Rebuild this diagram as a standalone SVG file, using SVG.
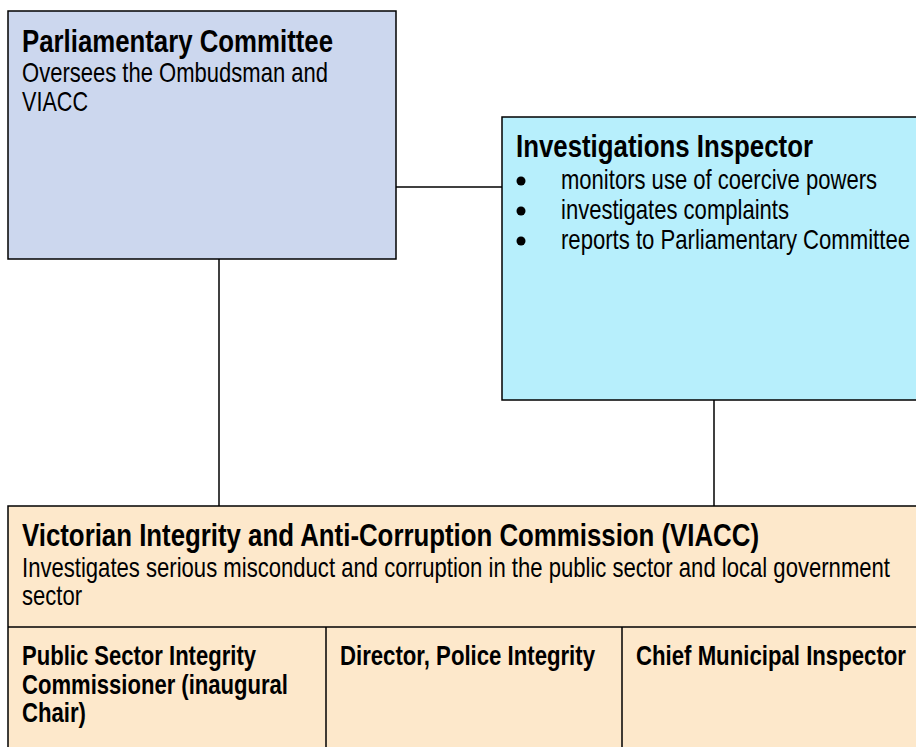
<svg xmlns="http://www.w3.org/2000/svg" width="916" height="747" viewBox="0 0 916 747">
  <style>
    text { font-family: "Liberation Sans", Arial, sans-serif; fill: #000; }
    .title { font-size: 31px; font-weight: bold; }
    .body { font-size: 28px; }
    .cell { font-size: 28px; font-weight: bold; }
    .box { stroke: #000; stroke-width: 1.5; }
    .conn { stroke: #000; stroke-width: 1.5; fill: none; }
  </style>
  <rect width="916" height="747" fill="#fff"/>

  <!-- connectors -->
  <g id="connectors">
    <line class="conn" x1="396" y1="187" x2="502" y2="187"/>
    <line class="conn" x1="219" y1="259" x2="219" y2="506"/>
    <line class="conn" x1="714" y1="400" x2="714" y2="506"/>
  </g>

  <!-- condensed lettering: widths fixed with textLength -->
  <g id="parliamentary-committee">
    <rect class="box" x="8" y="11" width="388" height="248" fill="#CCD7EE"/>
    <text class="title" x="22" y="52" textLength="311" lengthAdjust="spacingAndGlyphs">Parliamentary Committee</text>
    <text class="body" x="22" y="82" textLength="306" lengthAdjust="spacingAndGlyphs">Oversees the Ombudsman and</text>
    <text class="body" x="22" y="111" textLength="66" lengthAdjust="spacingAndGlyphs">VIACC</text>
  </g>

  <g id="investigations-inspector">
    <rect class="box" x="502" y="117" width="420" height="283" fill="#B7EFFC"/>
    <text class="title" x="516" y="157" textLength="297" lengthAdjust="spacingAndGlyphs">Investigations Inspector</text>
    <circle cx="521" cy="181" r="4.5"/>
    <circle cx="521" cy="211" r="4.5"/>
    <circle cx="521" cy="241" r="4.5"/>
    <text class="body" x="561" y="189" textLength="316" lengthAdjust="spacingAndGlyphs">monitors use of coercive powers</text>
    <text class="body" x="561" y="219" textLength="228" lengthAdjust="spacingAndGlyphs">investigates complaints</text>
    <text class="body" x="561" y="249" textLength="349" lengthAdjust="spacingAndGlyphs">reports to Parliamentary Committee</text>
  </g>

  <g id="viacc">
    <rect class="box" x="8" y="506" width="914" height="250" fill="#FDE8CB"/>
    <line class="box" x1="8" y1="627" x2="922" y2="627"/>
    <line class="box" x1="326" y1="627" x2="326" y2="756"/>
    <line class="box" x1="622" y1="627" x2="622" y2="756"/>
    <text class="title" x="22" y="546" textLength="737" lengthAdjust="spacingAndGlyphs">Victorian Integrity and Anti-Corruption Commission (VIACC)</text>
    <text class="body" x="22" y="577" textLength="868" lengthAdjust="spacingAndGlyphs">Investigates serious misconduct and corruption in the public sector and local government</text>
    <text class="body" x="22" y="605" textLength="60" lengthAdjust="spacingAndGlyphs">sector</text>
  </g>

  <g id="public-sector-integrity-commissioner">
    <text class="cell" x="22" y="665" textLength="234" lengthAdjust="spacingAndGlyphs">Public Sector Integrity</text>
    <text class="cell" x="22" y="694" textLength="266" lengthAdjust="spacingAndGlyphs">Commissioner (inaugural</text>
    <text class="cell" x="22" y="722" textLength="64" lengthAdjust="spacingAndGlyphs">Chair)</text>
  </g>

  <g id="director-police-integrity">
    <text class="cell" x="340" y="665" textLength="255" lengthAdjust="spacingAndGlyphs">Director, Police Integrity</text>
  </g>

  <g id="chief-municipal-inspector">
    <text class="cell" x="636" y="665" textLength="270" lengthAdjust="spacingAndGlyphs">Chief Municipal Inspector</text>
  </g>
</svg>
